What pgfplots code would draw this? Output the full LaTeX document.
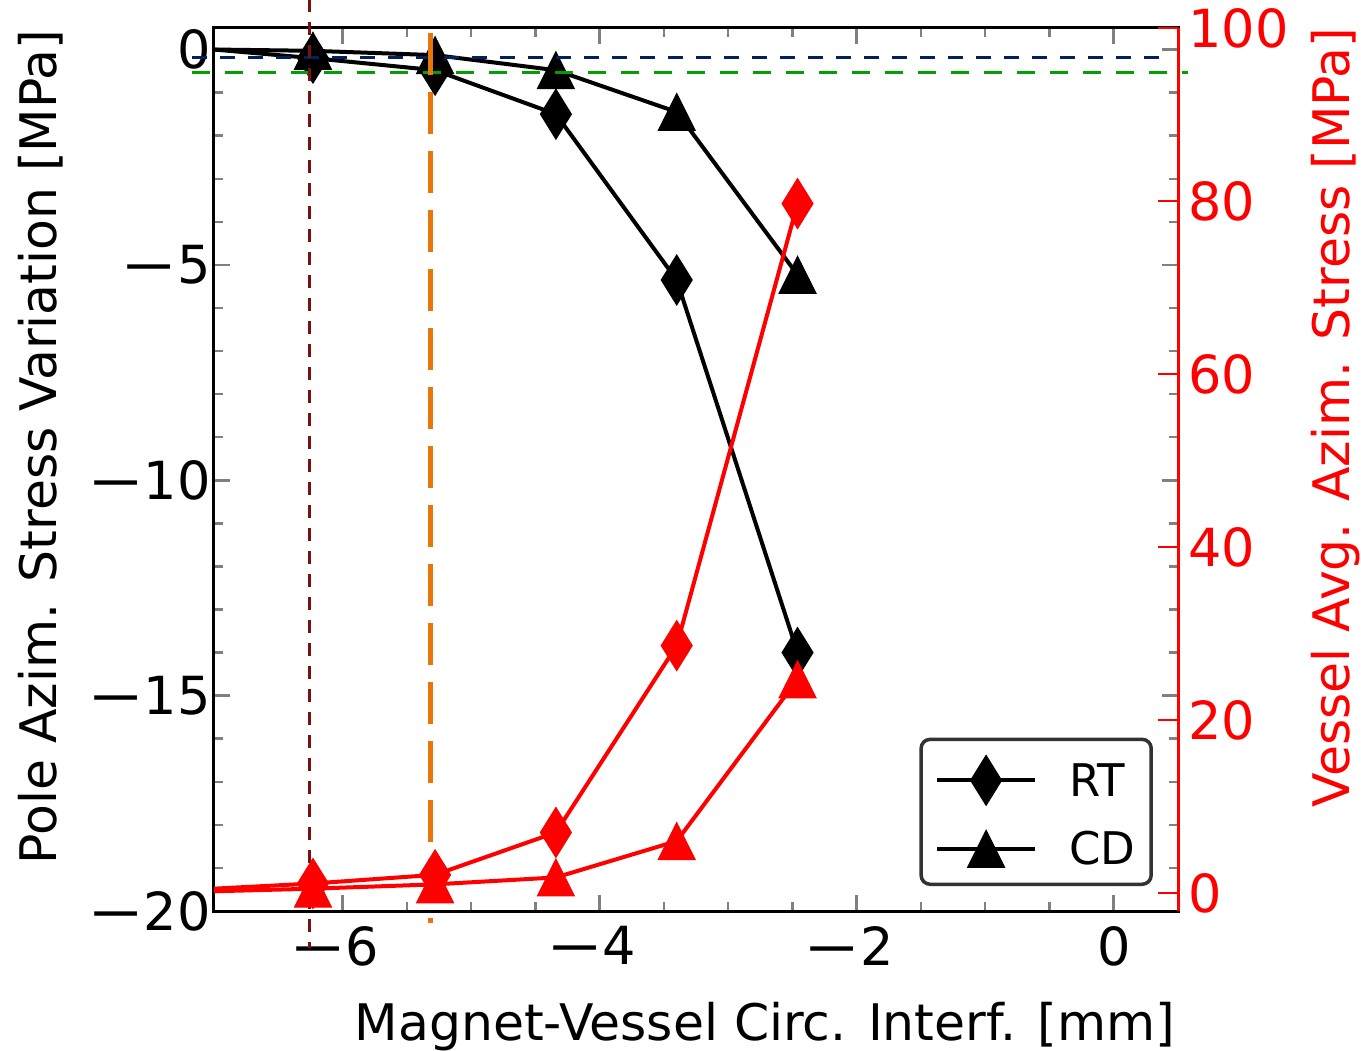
\documentclass[border=0pt]{standalone}
\usepackage{fontspec}
\setmainfont{DejaVu Sans}
\usepackage{graphicx}
\usepackage{pgfplots}
\pgfplotsset{compat=1.18}
\definecolor{navyd}{RGB}{0,32,96}
\definecolor{greend}{RGB}{0,160,0}
\definecolor{maroond}{RGB}{122,16,16}
\definecolor{oranged}{RGB}{232,118,10}
\definecolor{legbox}{RGB}{51,51,51}
\pgfdeclareplotmark{mtri}{%
  \pgfpathmoveto{\pgfqpoint{0pt}{18.5pt}}%
  \pgfpathlineto{\pgfqpoint{-18.5pt}{-18.5pt}}%
  \pgfpathlineto{\pgfqpoint{18.5pt}{-18.5pt}}%
  \pgfpathclose\pgfusepathqfillstroke}
\pgfdeclareplotmark{mdia}{%
  \pgfpathmoveto{\pgfqpoint{0pt}{25pt}}%
  \pgfpathlineto{\pgfqpoint{15.5pt}{0pt}}%
  \pgfpathlineto{\pgfqpoint{0pt}{-25pt}}%
  \pgfpathlineto{\pgfqpoint{-15.5pt}{0pt}}%
  \pgfpathclose\pgfusepathqfillstroke}
\newcommand{\tickfnt}{\fontsize{52.5}{60}\selectfont}
\newcommand{\labfnt}{\fontsize{50.4}{58}\selectfont}
\newcommand{\mn}{\scalebox{1.3}[1]{−}\kern-1pt}
\pgfplotsset{
  common/.style={
    at={(0,0)}, anchor=south west,
    scale only axis, width=964pt, height=883pt,
    xmin=-7, xmax=0.5,
    tick align=inside,
    major tick length=16pt, minor tick length=9pt,
    tick style={line width=2.5pt},
    axis line style={line width=3pt},
    tick label style={font=\tickfnt},
    label style={font=\labfnt},
  }
}
\begin{document}
\begin{tikzpicture}
\begin{axis}[common, name=ax,
  ymin=-20, ymax=0.5,
  xtick={-6,-4,-2,0}, xticklabels={\mn 6\kern16pt,\mn 4\kern16pt,\mn 2\kern16pt,0},
  xticklabel style={yshift=-12pt},
  minor x tick num=3,
  ytick={-20,-15,-10,-5,0}, yticklabels={\mn 20,\mn 15,\mn 10,\mn 5,0},
  minor y tick num=4,
  xlabel={Magnet-Vessel Circ. Interf. [mm]},
  xlabel style={at={(axis description cs:0.5716,-0.1461)}, anchor=base},
  ylabel={Pole Azim. Stress Variation [MPa]},
  ylabel style={at={(axis description cs:-0.1629,0.5255)}, anchor=base},
  legend style={at={(axis description cs:0.974,0.0283)}, anchor=south east,
    draw=legbox, line width=3.5pt, rounded corners=9pt,
    font=\fontsize{45}{52}\selectfont,
    inner xsep=14pt, inner ysep=16pt, row sep=24pt,
    legend cell align=left},
  legend image code/.code={\draw[mark repeat=2,mark phase=2] plot coordinates {(0pt,0pt) (49pt,0pt) (98pt,0pt)};},
]
\addplot[black, line width=4pt, mark=mdia, mark phase=2, mark options={solid, fill=black, line width=1pt}]
  coordinates {(-7,0.0) (-6.23,-0.2) (-5.28,-0.48) (-4.34,-1.5) (-3.40,-5.35) (-2.46,-14.0)};
\addlegendentry{\hspace{30pt}RT}
\addplot[black, line width=4pt, mark=mtri, mark phase=2, mark options={solid, fill=black, line width=1pt}]
  coordinates {(-7,0.0) (-6.23,-0.03) (-5.28,-0.13) (-4.34,-0.48) (-3.40,-1.45) (-2.46,-5.23)};
\addlegendentry{\hspace{30pt}CD}
\end{axis}
\begin{axis}[common, clip=false,
  ymin=-2.081, ymax=100,
  axis x line=none,
  axis y line*=right,
  ytick={0,20,40,60,80,100},
  yticklabels={0,20,40,60,80,100},
  y axis line style={red, line width=3pt},
  y tick style={red, line width=2.5pt},
  major tick length=20pt,
  yticklabel style={red, font=\tickfnt, xshift=7pt},
  ylabel={Vessel Avg. Azim. Stress [MPa]},
  ylabel style={at={(axis description cs:1.1774,0.5589)}, anchor=base, red},
]
\addplot[red, line width=4pt, mark=mdia, mark phase=2, mark options={solid, fill=red, line width=1pt}]
  coordinates {(-7,0.5) (-6.23,1.1) (-5.28,2.1) (-4.34,7.0) (-3.40,28.6) (-2.46,79.7)};
\addplot[red, line width=4pt, mark=mtri, mark phase=2, mark options={solid, fill=red, line width=1pt}]
  coordinates {(-7,0.2) (-6.23,0.5) (-5.28,1.0) (-4.34,1.8) (-3.40,6.0) (-2.46,24.7)};
% reference lines
\addplot[navyd, line width=3pt, dash pattern=on 15pt off 13pt, forget plot]
  coordinates {(-7.171,96.57) (0.350,96.57)};
\addplot[greend, line width=3.5pt, dash pattern=on 18pt off 15pt, forget plot]
  coordinates {(-7.171,94.83) (0.576,94.83)};
\addplot[maroond, line width=3pt, dash pattern=on 13pt off 10pt, forget plot]
  coordinates {(-6.259,106) (-6.259,-6.36)};
\addplot[oranged, line width=5pt, dash pattern=on 42pt off 17pt, forget plot]
  coordinates {(-5.314,99.42) (-5.314,-3.47)};
\end{axis}
\pgfresetboundingbox
\useasboundingbox ([xshift=-214pt,yshift=-139pt]ax.south west) rectangle ([xshift=183pt,yshift=28pt]ax.north east);
\end{tikzpicture}
\end{document}
